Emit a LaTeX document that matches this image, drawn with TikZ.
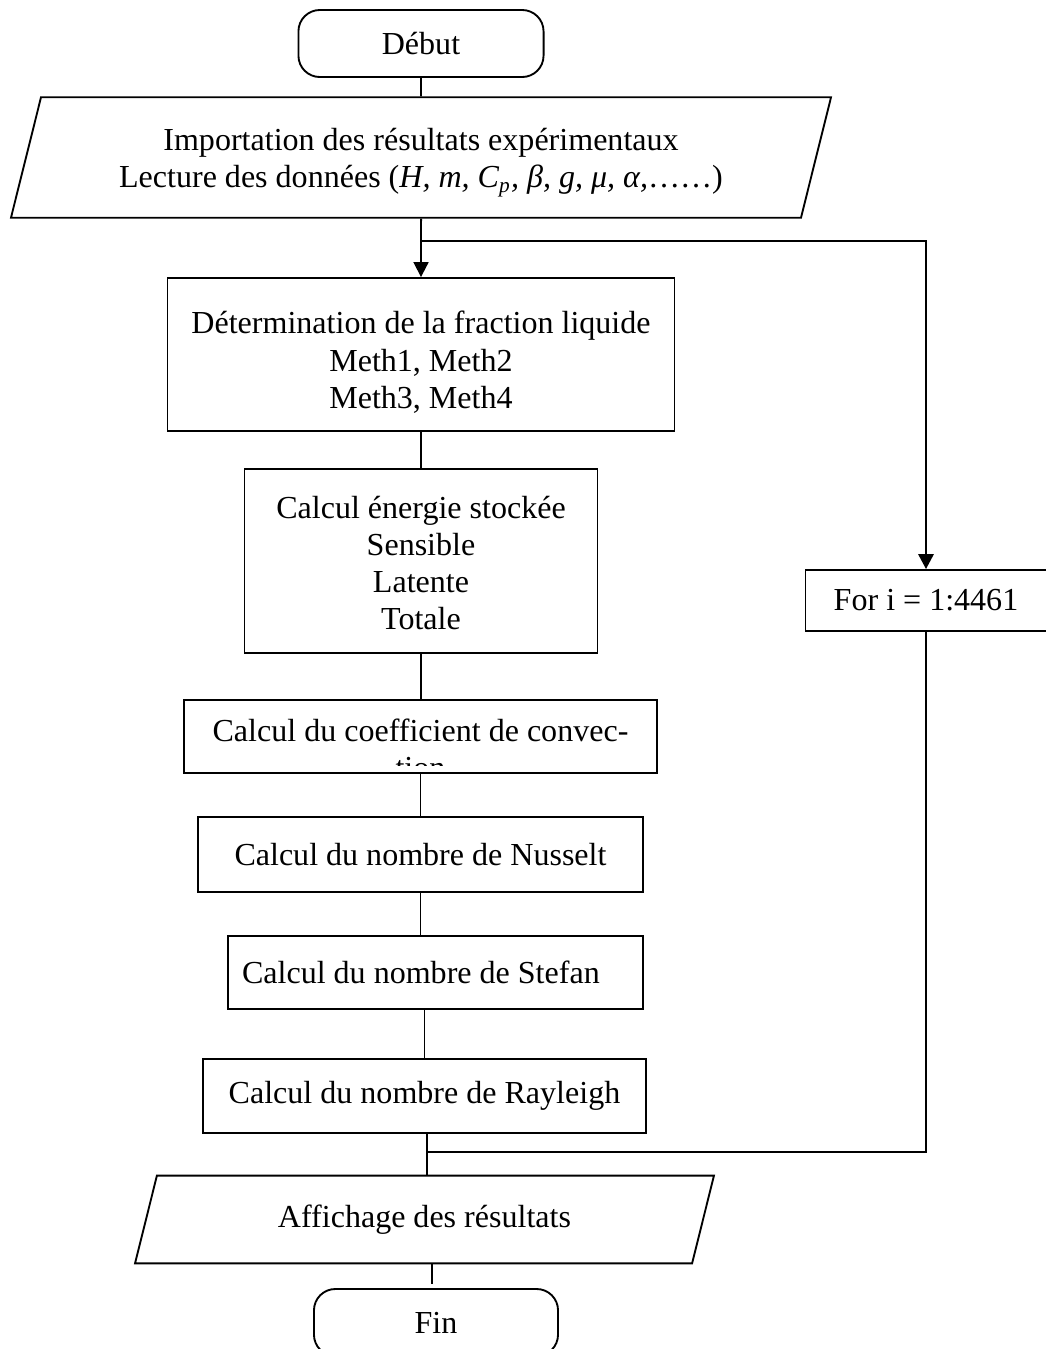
\documentclass[tikz,border=0pt]{standalone}
\usepackage{fontspec}
\setmainfont{Liberation Serif}
\usetikzlibrary{arrows.meta, shapes.geometric}

\begin{document}
\begin{tikzpicture}[x=0.3745pt,y=-0.3745pt,
    every node/.style={font=\fontsize{12}{13.9}\selectfont, align=center},
    box/.style={draw, line width=0.7pt, rectangle, inner sep=0pt},
    term/.style={box, rounded corners=8pt},
    io/.style={draw, line width=0.7pt, trapezium, trapezium left angle=76,
        trapezium right angle=104, trapezium stretches body, inner xsep=0pt},
    link/.style={line width=0.7pt},
    loopline/.style={line width=1.1pt},
    tip/.style={-{Triangle[width=5.6pt,length=5.6pt]}}]
    \clip (0,0) rectangle (1046,1349);
    % debut et lecture
    \node[term, minimum width=91.8pt, minimum height=25.1pt] (start) at (421,43.5) {Début};
    \node[io, inner ysep=7.7pt, minimum width=307.1pt, minimum height=44.6pt] (in) at (421,157.5)
        {\rule{0pt}{12.3pt}Importation des résultats expérimentaux\\
         Lecture des données (\textit{H, m, C\textsubscript{p}, β, g, μ, α,}……)};
    % calculs
    \node[box, minimum width=189.9pt, minimum height=57.3pt] (det) at (421,354.5)
        {\rule{0pt}{14.2pt}Détermination de la fraction liquide\\Meth1, Meth2\\Meth3, Meth4};
    \node[box, minimum width=132.2pt, minimum height=68.9pt] (energy) at (421,561)
        {\rule{0pt}{9.8pt}Calcul énergie stockée\\Sensible\\Latente\\Totale};
    \node[box, minimum width=177.1pt, minimum height=27.3pt] (conv) at (420.5,736.5) {};
    \begin{scope}
        \clip (184,700) rectangle (657,765);
        \node (convtxt) at (420.5,748.5) {Calcul du coefficient de convec-\\tion};
    \end{scope}
    \node[box, minimum width=166.7pt, minimum height=28.1pt] (nus) at (420.5,854.5)
        {Calcul du nombre de Nusselt};
    \node[box, minimum width=155.4pt, minimum height=27.3pt, text width=144.9pt,
        align=flush left, inner xsep=5.2pt] (stef) at (435.5,972.5) {Calcul du nombre de Stefan};
    \node[box, minimum width=165.9pt, minimum height=27.7pt] (ray) at (424.5,1096)
        {Calcul du nombre de Rayleigh};
    % boucle
    \node[box, minimum width=90.3pt, minimum height=22.8pt] (for) at (926,600.5)
        {For i = 1:4461};
    % sortie
    \node[io, inner ysep=10.9pt, minimum width=216.8pt, minimum height=32.6pt] (out) at (424.5,1219.5)
        {Affichage des résultats};
    \node[term, minimum width=91.4pt, minimum height=25.1pt] (end) at (436,1322.5) {Fin};

    \coordinate (split) at (421,241);
    \coordinate (join) at (427,1152);

    \draw[link] (start) -- (in);
    \draw[link, tip] (in.south) -- (det.north);
    \draw[loopline, tip] (split) -| (for.north);
    \foreach \a/\b in {det/energy, energy/conv, conv/nus, nus/stef}
        \draw[link] (\a.south) -- (\a.south |- \b.north);
    \draw[link] (ray.north |- stef.south) -- (ray.north);
    \draw[link] (join |- ray.south) -- (join |- out.north);
    \draw[loopline] (for.south) |- (join);
    \draw[link] (end.north |- out.south) ++(-4,0) -- ++(0,20);
\end{tikzpicture}
\end{document}
